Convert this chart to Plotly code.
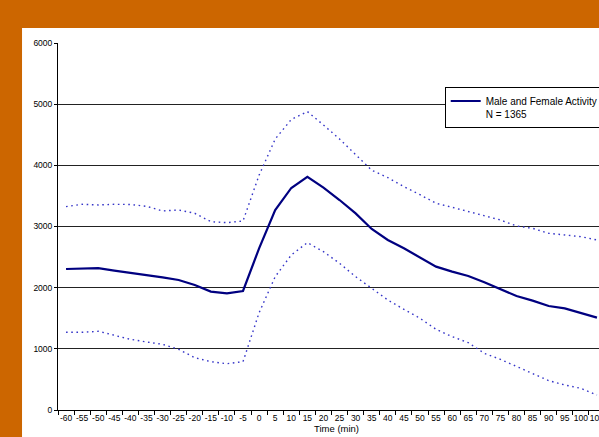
import plotly.graph_objects as go

time_min = [-60, -55, -50, -45, -40, -35, -30, -25, -20, -15, -10, -5, 0, 5, 10, 15,
            20, 25, 30, 35, 40, 45, 50, 55, 60, 65, 70, 75, 80, 85, 90, 95, 100, 105]
categories = [str(t) for t in time_min]

mean_activity = [2305, 2311, 2318, 2280, 2245, 2213, 2169, 2125, 2044, 1935, 1907, 1946,
                 2643, 3270, 3630, 3810, 3635, 3433, 3215, 2959, 2780, 2643, 2496, 2344,
                 2262, 2191, 2087, 1973, 1864, 1788, 1700, 1662, 1591, 1510]
upper_band = [3325, 3363, 3352, 3363, 3360, 3330, 3254, 3270, 3216, 3079, 3063, 3090,
              3840, 4430, 4750, 4880, 4660, 4430, 4175, 3920, 3800, 3651, 3520, 3379,
              3314, 3243, 3172, 3107, 3008, 2970, 2889, 2861, 2834, 2780]
lower_band = [1270, 1270, 1287, 1226, 1156, 1112, 1074, 992, 856, 790, 757, 790,
              1590, 2180, 2534, 2736, 2589, 2398, 2180, 1989, 1799, 1646, 1499, 1319,
              1199, 1101, 926, 828, 709, 589, 480, 409, 354, 245]

legend_label = "Male and Female Activity<br>N = 1365"
x_title = "Time (min)"
y_ticks = [0, 1000, 2000, 3000, 4000, 5000, 6000]

font_family = "Liberation Sans, Arial, sans-serif"
navy = "#000080"
dot_blue = "#3535C8"

fig = go.Figure()
fig.add_trace(go.Scatter(x=categories, y=upper_band, mode="lines",
                         line=dict(color=dot_blue, width=1.4, dash="1.6px,3.6px"),
                         showlegend=False, hoverinfo="skip"))
fig.add_trace(go.Scatter(x=categories, y=lower_band, mode="lines",
                         line=dict(color=dot_blue, width=1.4, dash="1.6px,3.6px"),
                         showlegend=False, hoverinfo="skip"))
fig.add_trace(go.Scatter(x=categories, y=mean_activity, mode="lines",
                         line=dict(color=navy, width=2.2),
                         name=legend_label, showlegend=True))

# Figure is wider than the 599px window; the overflow is clipped like the original.
W, H = 650, 437
cat_px = 16.1
ml, mt, mb = 58, 43, 27
pw = cat_px * len(categories)
mr = W - ml - pw
ph = H - mt - mb

fig.add_shape(type="rect", xref="paper", yref="paper",
              x0=(22 - ml) / pw, x1=1.2, y0=-0.2, y1=(H - mb - 28) / ph,
              fillcolor="white", line=dict(width=0), layer="below")

fig.add_annotation(text=x_title, xref="paper", yref="paper",
                   x=(337 - ml) / pw, y=0, yshift=-26, xanchor="center", yanchor="bottom",
                   showarrow=False, font=dict(family=font_family, size=9.5, color="black"))

fig.update_layout(
    width=W, height=H, autosize=False,
    margin=dict(l=ml, r=mr, t=mt, b=mb, pad=0),
    paper_bgcolor="#CC6600", plot_bgcolor="white",
    font=dict(family=font_family, color="black"),
    legend=dict(x=(445 - ml) / pw, y=(H - mb - 87) / ph, xanchor="left", yanchor="top",
                bgcolor="white", bordercolor="black", borderwidth=1,
                font=dict(family=font_family, size=10, color="black"),
                valign="top", itemwidth=30, tracegroupgap=0),
    xaxis=dict(type="category", categoryorder="array", categoryarray=categories,
               range=[-0.5, len(categories) - 0.5],
               showgrid=False, zeroline=False, showline=True, linecolor="black", linewidth=1,
               ticks="outside", tickson="boundaries", ticklen=4, tickcolor="black",
               tickfont=dict(family=font_family, size=8.5, color="black"), tickangle=0,
               fixedrange=True),
    yaxis=dict(range=[0, 6000], tickvals=y_ticks, showgrid=True, gridcolor="#222222",
               gridwidth=1, zeroline=False, showline=True, linecolor="black", linewidth=1,
               ticks="outside", ticklen=3, tickcolor="black",
               tickfont=dict(family=font_family, size=8.5, color="black"),
               fixedrange=True),
)

fig.write_html("out.html", config={"displayModeBar": False},
               post_script="document.body.style.margin='0';document.body.style.overflow='hidden';"
                           "document.documentElement.style.overflow='hidden';")
